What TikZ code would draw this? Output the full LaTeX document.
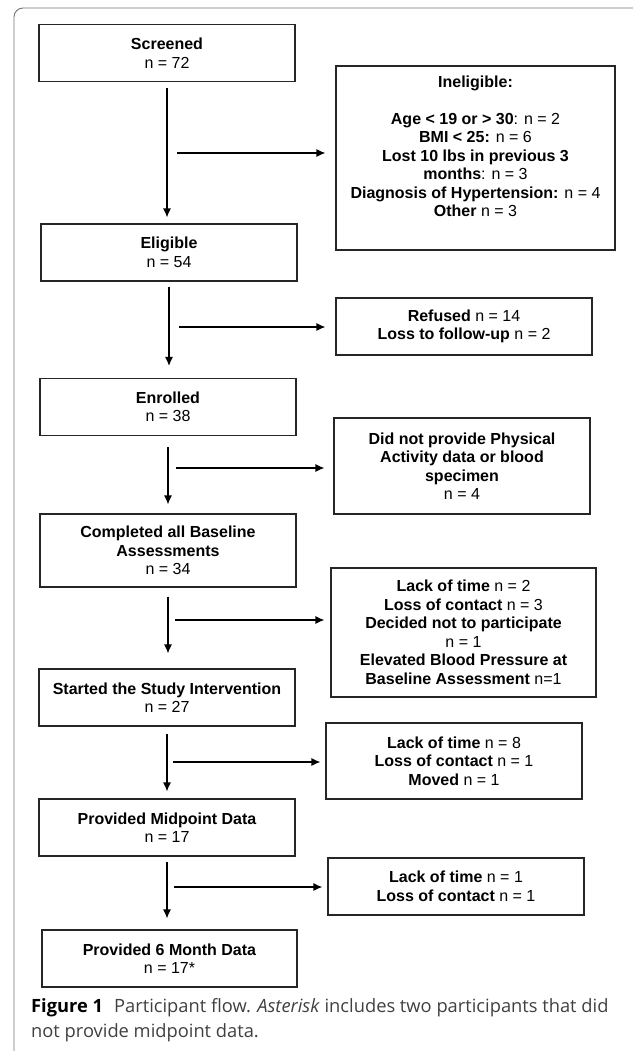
\documentclass[tikz,border=0pt]{standalone}
\usepackage{fontspec}
\setmainfont{Liberation Sans}
\newfontfamily\capfont{Open Sans}
\usepackage{tikz}
\colorlet{framegray}{black!55}
\colorlet{capgray}{black!75}
\usetikzlibrary{arrows.meta}
\tikzset{>={Latex[length=9pt,width=8pt]}}

\begin{document}
\begin{tikzpicture}[x=1pt, y=-1pt,
                line join=miter,
                box/.style={draw=black!85, line width=1.1pt, minimum width=256pt, minimum height=57pt,
                            align=center, inner sep=0pt, font=\fontsize{16}{18.5}\selectfont},
                flow/.style={->, line width=1.3pt}]
                \useasboundingbox (0,0) rectangle (633,1051);
                \clip (0,0) rectangle (633,1051);

                % page frame
                \draw[framegray, line width=0.9pt, rounded corners=9pt]
                    (14,1060) -- (14,8) -- (645,8) -- (645,1060);

                % main column
                \node[box] (scr)   at (167,53)    {\textbf{Screened}\\n = 72};
                \node[box] (elig)  at (169,252.5) {\textbf{Eligible}\\n = 54};
                \node[box] (enr)   at (168,407)   {\textbf{Enrolled}\\n = 38};
                \node[box, minimum height=73pt] (comp) at (168,550.5)
                    {\textbf{Completed all Baseline}\\\textbf{Assessments}\\n = 34};
                \node[box] (start) at (167,697.5) {\textbf{Started the Study Intervention}\\n = 27};
                \node[box] (mid)   at (167,827.5) {\textbf{Provided Midpoint Data}\\n = 17};
                \node[box, minimum width=255pt] (six) at (169.5,958.5) {\textbf{Provided 6 Month Data}\\n = 17*};

                % side boxes (drop outs)
                \node[box, minimum width=279pt, minimum height=184pt] (inel) at (475.5,158)
                    {\textbf{Ineligible:}\\[18.5pt]
                     \textbf{Age < 19 or > 30}: n = 2\\
                     \textbf{BMI < 25:} n = 6\\
                     \textbf{Lost 10 lbs in previous 3}\\
                     \textbf{months}: n = 3\\
                     \textbf{Diagnosis of Hypertension:} n = 4\\
                     \textbf{Other} n = 3\\ \strut};
                \node[box] (refu) at (464,326.5)
                    {\textbf{Refused} n = 14\\\textbf{Loss to follow-up} n = 2};
                \node[box, minimum height=96pt] (nodata) at (462,466)
                    {\textbf{Did not provide Physical}\\\textbf{Activity data or blood}\\\textbf{specimen}\\n = 4};
                \node[box, minimum width=265pt, minimum height=129pt] (lackA) at (463.5,632.5)
                    {\textbf{Lack of time} n = 2\\
                     \textbf{Loss of contact} n = 3\\
                     \textbf{Decided not to participate}\\
                     n = 1\\
                     \textbf{Elevated Blood Pressure at}\\
                     \textbf{Baseline Assessment} n=1};
                \node[box, minimum height=76pt] (lackB) at (454,761)
                    {\textbf{Lack of time} n = 8\\\textbf{Loss of contact} n = 1\\\textbf{Moved} n = 1};
                \node[box] (lackC) at (456,886.5)
                    {\textbf{Lack of time} n = 1\\\textbf{Loss of contact} n = 1};

                % arrows down the main column
                \foreach \src/\dst/\s/\e in {scr/elig/6/6, elig/enr/5/12, enr/comp/11/9,
                                             comp/start/9/15, start/mid/7/7, mid/six/5/11}{
                    \draw[flow, shorten <=\s pt, shorten >=\e pt] (\src.south) -- (\src.south |- \dst.north);
                }

                % arrows out to the side boxes
                \foreach \px/\py/\dst/\g in {177/153/inel/10, 179/327/refu/10, 176/468/nodata/9,
                                             175/620/lackA/6, 173/762/lackB/5, 174/887/lackC/5}{
                    \coordinate (from) at (\px,\py);
                    \draw[flow, shorten >=\g pt] (from) -- (from -| \dst.west);
                }

                % caption
                \node[anchor=north west, align=left, inner sep=0pt, text=capgray,
                      font=\capfont\fontsize{18.3}{25}\selectfont] (cap) at (31,998)
                    {{\color{black}\bfseries Figure 1}\hspace{11pt}Participant flow. \textit{Asterisk} includes two participants that did\\
                     not provide midpoint data.};

            \end{tikzpicture}
\end{document}
